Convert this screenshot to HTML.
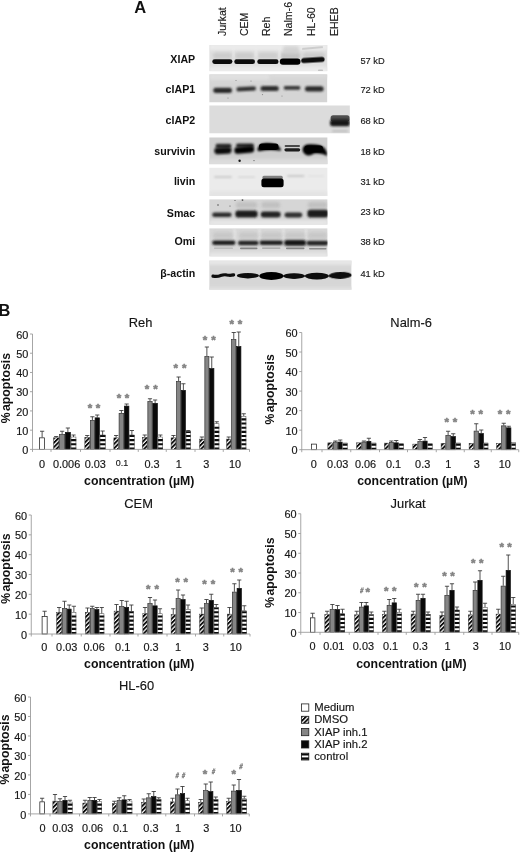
<!DOCTYPE html>
<html lang="en"><head><meta charset="utf-8"><title>Figure</title>
<style>html,body{margin:0;padding:0;background:#fff}svg{display:block}text{font-family:'Liberation Sans', sans-serif}</style>
</head><body>
<svg width="520" height="852" viewBox="0 0 520 852">
<defs>
<pattern id="hat" width="3.1" height="3.1" patternUnits="userSpaceOnUse" patternTransform="rotate(-45)"><rect width="3.1" height="3.1" fill="#fff"/><rect width="3.1" height="1.85" fill="#0a0a0a"/></pattern>
<pattern id="str" width="4" height="4.15" patternUnits="userSpaceOnUse"><rect width="4" height="4.15" fill="#fff"/><rect width="4" height="2.1" fill="#0a0a0a"/></pattern>
<filter id="b1" x="-20%" y="-80%" width="140%" height="260%"><feGaussianBlur stdDeviation="0.9"/></filter>
<filter id="b2" x="-20%" y="-80%" width="140%" height="260%"><feGaussianBlur stdDeviation="1.5"/></filter>
<filter id="b3" x="-30%" y="-100%" width="160%" height="300%"><feGaussianBlur stdDeviation="2.5"/></filter>
<filter id="b05" x="-20%" y="-80%" width="140%" height="260%"><feGaussianBlur stdDeviation="0.6"/></filter>
</defs>
<rect width="520" height="852" fill="#fff"/>
<g id="panelA">
<text x="225.7" y="36.1" font-size="10.6" fill="#1a1a1a" stroke="#1a1a1a" stroke-width="0.15" transform="rotate(-90 225.7 36.1)">Jurkat</text>
<text x="248.2" y="36.1" font-size="10.6" fill="#1a1a1a" stroke="#1a1a1a" stroke-width="0.15" transform="rotate(-90 248.2 36.1)">CEM</text>
<text x="270.5" y="36.1" font-size="10.6" fill="#1a1a1a" stroke="#1a1a1a" stroke-width="0.15" transform="rotate(-90 270.5 36.1)">Reh</text>
<text x="292.5" y="36.1" font-size="10.6" fill="#1a1a1a" stroke="#1a1a1a" stroke-width="0.15" transform="rotate(-90 292.5 36.1)">Nalm-6</text>
<text x="315" y="36.1" font-size="10.6" fill="#1a1a1a" stroke="#1a1a1a" stroke-width="0.15" transform="rotate(-90 315 36.1)">HL-60</text>
<text x="338.3" y="36.1" font-size="10.6" fill="#1a1a1a" stroke="#1a1a1a" stroke-width="0.15" transform="rotate(-90 338.3 36.1)">EHEB</text>
<text transform="translate(195.2 63.4) scale(1.065 1)" font-size="10" font-weight="bold" text-anchor="end" fill="#111">XIAP</text>
<text transform="translate(195.2 92.9) scale(1.065 1)" font-size="10" font-weight="bold" text-anchor="end" fill="#111">cIAP1</text>
<text transform="translate(195.2 124.2) scale(1.065 1)" font-size="10" font-weight="bold" text-anchor="end" fill="#111">cIAP2</text>
<text transform="translate(195.2 155.4) scale(1.065 1)" font-size="10" font-weight="bold" text-anchor="end" fill="#111">survivin</text>
<text transform="translate(195.2 184.9) scale(1.065 1)" font-size="10" font-weight="bold" text-anchor="end" fill="#111">livin</text>
<text transform="translate(195.2 216.6) scale(1.065 1)" font-size="10" font-weight="bold" text-anchor="end" fill="#111">Smac</text>
<text transform="translate(195.2 245.4) scale(1.065 1)" font-size="10" font-weight="bold" text-anchor="end" fill="#111">Omi</text>
<text transform="translate(195.2 277.4) scale(1.065 1)" font-size="10" font-weight="bold" text-anchor="end" fill="#111">β-actin</text>
<text x="360.4" y="63.6" font-size="9.3" fill="#1a1a1a" stroke="#1a1a1a" stroke-width="0.15">57 kD</text>
<text x="360.4" y="92.6" font-size="9.3" fill="#1a1a1a" stroke="#1a1a1a" stroke-width="0.15">72 kD</text>
<text x="360.4" y="123.8" font-size="9.3" fill="#1a1a1a" stroke="#1a1a1a" stroke-width="0.15">68 kD</text>
<text x="360.4" y="155" font-size="9.3" fill="#1a1a1a" stroke="#1a1a1a" stroke-width="0.15">18 kD</text>
<text x="360.4" y="184.6" font-size="9.3" fill="#1a1a1a" stroke="#1a1a1a" stroke-width="0.15">31 kD</text>
<text x="360.4" y="215.2" font-size="9.3" fill="#1a1a1a" stroke="#1a1a1a" stroke-width="0.15">23 kD</text>
<text x="360.4" y="245" font-size="9.3" fill="#1a1a1a" stroke="#1a1a1a" stroke-width="0.15">38 kD</text>
<text x="360.4" y="277" font-size="9.3" fill="#1a1a1a" stroke="#1a1a1a" stroke-width="0.15">41 kD</text>
<clipPath id="cb1"><rect x="209.2" y="45" width="118.3" height="26.3"/></clipPath>
<g clip-path="url(#cb1)">
<rect x="209.2" y="45" width="118.3" height="26.3" fill="#e0e0e0"/>
<rect x="209" y="44" width="119" height="6" rx="2.5" fill="#ececec" filter="url(#b2)"/>
<rect x="213" y="52.5" width="19" height="6.5" rx="2.5" fill="#c8c8c8" filter="url(#b2)" opacity="0.85"/>
<rect x="235" y="52.5" width="19" height="6.5" rx="2.5" fill="#c8c8c8" filter="url(#b2)" opacity="0.85"/>
<rect x="258" y="52.5" width="20" height="6.5" rx="2.5" fill="#cacaca" filter="url(#b2)" opacity="0.85"/>
<rect x="281" y="52.5" width="19" height="6.5" rx="2.5" fill="#bcbcbc" filter="url(#b2)" opacity="0.85"/>
<rect x="303" y="52.5" width="22" height="6.5" rx="2.5" fill="#c8c8c8" filter="url(#b2)" opacity="0.85"/>
<rect x="283" y="46" width="16" height="8" rx="2.5" fill="#cfcfcf" filter="url(#b2)" opacity="0.8"/>
<rect x="232.5" y="47" width="2" height="11" rx="2.5" fill="#ececec" filter="url(#b1)" opacity="0.8"/>
<rect x="255" y="47" width="2" height="11" rx="2.5" fill="#ececec" filter="url(#b1)" opacity="0.8"/>
<rect x="278.5" y="47" width="2" height="11" rx="2.5" fill="#ececec" filter="url(#b1)" opacity="0.8"/>
<rect x="209" y="67" width="119" height="6" rx="2.5" fill="#ececec" filter="url(#b2)"/>
<rect x="212.3" y="59.3" width="20.1" height="4.6" rx="2.3" fill="#0c0c0c" filter="url(#b05)"/>
<rect x="234.3" y="59.3" width="20.7" height="4.7" rx="2.35" fill="#0a0a0a" filter="url(#b05)"/>
<rect x="257.3" y="59.3" width="21.2" height="4.7" rx="2.35" fill="#0a0a0a" filter="url(#b05)"/>
<rect x="279.8" y="58.6" width="20.7" height="6.2" rx="3" fill="#050505" filter="url(#b05)"/>
<rect x="301.2" y="57.6" width="23.4" height="5" rx="2.5" fill="#080808" filter="url(#b05)" transform="rotate(-3.5 312.9 60.1)"/>
<rect x="302" y="47.6" width="21" height="1" rx="0.5" fill="#b0b0b0" filter="url(#b05)" transform="rotate(-5 312.5 48.1)"/>
<rect x="318" y="69.8" width="5" height="0.8" rx="0.4" fill="#9a9a9a" filter="url(#b05)"/>
</g>
<clipPath id="cb2"><rect x="209.2" y="74.2" width="118.2" height="28.3"/></clipPath>
<g clip-path="url(#cb2)">
<rect x="209.2" y="74.2" width="118.2" height="28.3" fill="#d5d5d5"/>
<rect x="209" y="73" width="61" height="7" rx="2.5" fill="#e0e0e0" filter="url(#b2)"/>
<rect x="270" y="73" width="58" height="5" rx="2.5" fill="#dadada" filter="url(#b2)"/>
<rect x="213.3" y="87.8" width="18.7" height="5.2" rx="2.5" fill="#2c2c2c" filter="url(#b1)"/>
<rect x="236.3" y="86.8" width="19.7" height="4.2" rx="2.1" fill="#2e2e2e" filter="url(#b1)" transform="rotate(-3 246.15 88.9)"/>
<rect x="260.5" y="85.9" width="18.3" height="5.1" rx="2.5" fill="#2e2e2e" filter="url(#b1)"/>
<rect x="283.7" y="86.1" width="16.7" height="3.6" rx="1.8" fill="#343434" filter="url(#b1)"/>
<rect x="305" y="86.2" width="18.6" height="5.4" rx="2.5" fill="#2c2c2c" filter="url(#b1)"/>
<circle cx="236" cy="80.5" r="0.6" fill="#8a8a8a" filter="url(#b05)"/>
<circle cx="251" cy="81" r="0.6" fill="#8a8a8a" filter="url(#b05)"/>
<circle cx="262.5" cy="94.6" r="0.6" fill="#8a8a8a" filter="url(#b05)"/>
<circle cx="282" cy="96" r="0.6" fill="#8a8a8a" filter="url(#b05)"/>
<circle cx="228" cy="98" r="0.6" fill="#8a8a8a" filter="url(#b05)"/>
</g>
<clipPath id="cb3"><rect x="209.2" y="105.3" width="140.7" height="28.2"/></clipPath>
<g clip-path="url(#cb3)">
<rect x="209.2" y="105.3" width="140.7" height="28.2" fill="#dcdcdc"/>
<rect x="330.6" y="115.2" width="19" height="6.3" rx="2.5" fill="#505050" filter="url(#b05)"/>
<rect x="330" y="119.6" width="19.8" height="6.6" rx="2.5" fill="#141414" filter="url(#b1)"/>
<rect x="332" y="130" width="16" height="2" rx="1" fill="#bdbdbd" filter="url(#b1)"/>
</g>
<clipPath id="cb4"><rect x="209.2" y="137.3" width="118.4" height="26.9"/></clipPath>
<g clip-path="url(#cb4)">
<rect x="209.2" y="137.3" width="118.4" height="26.9" fill="#cfcfcf"/>
<rect x="205" y="159" width="125" height="9" rx="2.5" fill="#dcdcdc" filter="url(#b2)"/>
<rect x="215.5" y="143.8" width="16" height="4.2" rx="2.1" fill="#2c2c2c" filter="url(#b1)"/>
<rect x="214.3" y="147.2" width="17.3" height="6.8" rx="3.4" fill="#080808" filter="url(#b1)" transform="rotate(-3 222.95 150.6)"/>
<rect x="236" y="143.6" width="18" height="4" rx="2" fill="#262626" filter="url(#b1)"/>
<rect x="234.3" y="146.6" width="19.9" height="6.6" rx="3.3" fill="#060606" filter="url(#b1)" transform="rotate(-5 244.25 149.9)"/>
<path d="M257.4 149.6 Q258 143.6 266 143.0 Q275 142.8 279.6 147.2 Q281.6 149.8 280.6 150.8 Q270 148.8 259.4 151.2 Q257.2 151.4 257.4 149.6Z" fill="#060606" filter="url(#b1)"/>
<rect x="259" y="143.6" width="19.5" height="6.4" rx="3" fill="#060606" filter="url(#b05)"/>
<rect x="284.6" y="144.9" width="15.4" height="2.1" rx="1.05" fill="#484848" filter="url(#b05)"/>
<rect x="284.4" y="148.2" width="15.8" height="3.2" rx="1.6" fill="#1c1c1c" filter="url(#b05)"/>
<path d="M302.6 149 Q303 144.4 310 144.2 Q320 144.0 324 147.6 Q327.4 151.5 327 156 Q322 152.8 314 153.4 Q309 157 305.4 154.4 Q302.2 152.4 302.6 149Z" fill="#060606" filter="url(#b1)"/>
<rect x="304.6" y="145.4" width="18.4" height="7" rx="3" fill="#060606" filter="url(#b05)"/>
<circle cx="239.6" cy="160.7" r="1.2" fill="#161616" filter="url(#b05)"/>
<circle cx="254" cy="160.6" r="0.6" fill="#555" filter="url(#b05)"/>
</g>
<clipPath id="cb5"><rect x="209.2" y="167.6" width="118.4" height="28.4"/></clipPath>
<g clip-path="url(#cb5)">
<rect x="209.2" y="167.6" width="118.4" height="28.4" fill="#ebebeb"/>
<rect x="214" y="176.2" width="18" height="1.6" rx="0.8" fill="#c2c2c2" filter="url(#b1)"/>
<rect x="238" y="176.6" width="17" height="1.2" rx="0.6" fill="#d0d0d0" filter="url(#b1)"/>
<rect x="287" y="175.2" width="17.5" height="1.6" rx="0.8" fill="#c0c0c0" filter="url(#b1)"/>
<rect x="308" y="175.6" width="16" height="1.2" rx="0.6" fill="#dedede" filter="url(#b1)"/>
<rect x="262.4" y="175.8" width="20.4" height="3.8" rx="1.5" fill="#808080" filter="url(#b05)"/>
<rect x="261.4" y="178.4" width="22.2" height="8.9" rx="2.5" fill="#050505" filter="url(#b05)"/>
<rect x="209" y="191" width="119" height="7" rx="2.5" fill="#e4e4e4" filter="url(#b2)"/>
</g>
<clipPath id="cb6"><rect x="209.2" y="199.2" width="118.4" height="25.6"/></clipPath>
<g clip-path="url(#cb6)">
<rect x="209.2" y="199.2" width="118.4" height="25.6" fill="#d6d6d6"/>
<rect x="209" y="220" width="119" height="6" rx="2.5" fill="#e6e6e6" filter="url(#b2)"/>
<rect x="236" y="202" width="21" height="6" rx="2.5" fill="#bcbcbc" filter="url(#b2)" opacity="0.85"/>
<rect x="261.5" y="202" width="18.5" height="6" rx="2.5" fill="#bcbcbc" filter="url(#b2)" opacity="0.85"/>
<rect x="308" y="202" width="19" height="6" rx="2.5" fill="#bcbcbc" filter="url(#b2)" opacity="0.85"/>
<rect x="212.2" y="212.6" width="19.4" height="4.4" rx="2.2" fill="#2c2c2c" filter="url(#b1)"/>
<rect x="235.3" y="210.5" width="22.3" height="6.9" rx="3" fill="#1e1e1e" filter="url(#b1)"/>
<rect x="260.7" y="211.5" width="20" height="5.9" rx="3" fill="#242424" filter="url(#b1)"/>
<rect x="284.5" y="212.6" width="17.8" height="4.8" rx="2.4" fill="#2e2e2e" filter="url(#b1)"/>
<rect x="307.4" y="209.8" width="21.1" height="7.6" rx="3" fill="#1e1e1e" filter="url(#b1)"/>
<circle cx="218" cy="205" r="0.8" fill="#555" filter="url(#b05)"/>
<circle cx="242.5" cy="200" r="0.9" fill="#555" filter="url(#b05)"/>
<circle cx="235" cy="200.5" r="0.6" fill="#555" filter="url(#b05)"/>
<circle cx="230" cy="206" r="0.6" fill="#555" filter="url(#b05)"/>
</g>
<clipPath id="cb7"><rect x="209.2" y="228.2" width="118.4" height="28.4"/></clipPath>
<g clip-path="url(#cb7)">
<rect x="209.2" y="228.2" width="118.4" height="28.4" fill="#d8d8d8"/>
<rect x="209" y="252.5" width="119" height="6.5" rx="2.5" fill="#e6e6e6" filter="url(#b2)"/>
<rect x="233.3" y="228" width="2.4" height="12" rx="2.5" fill="#ececec" filter="url(#b1)" opacity="0.6"/>
<rect x="258.3" y="228" width="2.4" height="12" rx="2.5" fill="#ececec" filter="url(#b1)" opacity="0.6"/>
<rect x="282.3" y="228" width="2.4" height="12" rx="2.5" fill="#ececec" filter="url(#b1)" opacity="0.6"/>
<rect x="304.8" y="228" width="2.4" height="12" rx="2.5" fill="#ececec" filter="url(#b1)" opacity="0.6"/>
<rect x="213" y="232" width="20" height="7" rx="2.5" fill="#c4c4c4" filter="url(#b2)" opacity="0.8"/>
<rect x="239" y="232" width="19" height="7" rx="2.5" fill="#c4c4c4" filter="url(#b2)" opacity="0.8"/>
<rect x="261" y="232" width="21" height="7" rx="2.5" fill="#c4c4c4" filter="url(#b2)" opacity="0.8"/>
<rect x="285" y="232" width="20" height="7" rx="2.5" fill="#c4c4c4" filter="url(#b2)" opacity="0.8"/>
<rect x="308" y="232" width="19" height="7" rx="2.5" fill="#c4c4c4" filter="url(#b2)" opacity="0.8"/>
<rect x="212.2" y="240.6" width="23.2" height="4.4" rx="2.2" fill="#1e1e1e" filter="url(#b1)"/>
<rect x="238" y="240.8" width="20.5" height="4.4" rx="2.2" fill="#222" filter="url(#b1)"/>
<rect x="259.6" y="240.6" width="23.4" height="4.4" rx="2.2" fill="#1e1e1e" filter="url(#b1)"/>
<rect x="284.2" y="240" width="21.8" height="5.8" rx="2.5" fill="#181818" filter="url(#b1)"/>
<rect x="306.4" y="240.8" width="22.1" height="4.6" rx="2.3" fill="#222" filter="url(#b1)"/>
<rect x="214" y="247.6" width="19" height="1.2" rx="0.6" fill="#b4b4b4" filter="url(#b05)"/>
<rect x="240" y="247.6" width="17.5" height="1.6" rx="0.8" fill="#858585" filter="url(#b05)"/>
<rect x="262" y="247.5" width="18.5" height="1.2" rx="0.6" fill="#a0a0a0" filter="url(#b05)"/>
<rect x="286" y="247.6" width="18.5" height="1.6" rx="0.8" fill="#858585" filter="url(#b05)"/>
<rect x="309" y="248" width="17.5" height="1.6" rx="0.8" fill="#8c8c8c" filter="url(#b05)"/>
</g>
<clipPath id="cb8"><rect x="209.2" y="260.5" width="142.4" height="29.2"/></clipPath>
<g clip-path="url(#cb8)">
<rect x="209.2" y="260.5" width="142.4" height="29.2" fill="#d6d6d6"/>
<rect x="205" y="257" width="150" height="8" rx="2.5" fill="#e6e6e6" filter="url(#b2)"/>
<rect x="205" y="287" width="150" height="6" rx="2.5" fill="#e0e0e0" filter="url(#b2)"/>
<path d="M213 276.2 Q217.5 276.9 220.5 275.6 Q224 274.3 227 275.0 Q230.5 275.6 233.6 274.9" stroke="#0a0a0a" stroke-width="3.2" stroke-linecap="round" fill="none" filter="url(#b05)"/>
<ellipse cx="247.9" cy="275.7" rx="11.1" ry="2.7" fill="#080808" filter="url(#b05)"/>
<ellipse cx="271.4" cy="276.05" rx="12.2" ry="3.95" fill="#060606" filter="url(#b05)"/>
<ellipse cx="294.05" cy="276.1" rx="11.05" ry="2.8" fill="#080808" filter="url(#b05)"/>
<ellipse cx="316.9" cy="276.1" rx="12.1" ry="3.3" fill="#080808" filter="url(#b05)"/>
<ellipse cx="340.3" cy="275.4" rx="11.7" ry="3.5" fill="#080808" filter="url(#b05)" transform="rotate(-2 340.3 275.4)"/>
</g>
</g>
<text x="134.3" y="12.6" font-size="16.5" font-weight="bold" fill="#111" >A</text>
<text x="-1.4" y="315.8" font-size="16.4" font-weight="bold" fill="#111" >B</text>
<g id="charts">
<path d="M42.12 437.5V431.25M40.02 431.25H44.23" stroke="#333" stroke-width="0.85" fill="none"/>
<rect x="39.6" y="437.85" width="5.05" height="11.55" fill="#fff" stroke="#111" stroke-width="0.7"/>
<path d="M56.25 437.5V436.5M54.15 436.5H58.35" stroke="#333" stroke-width="0.85" fill="none"/>
<rect x="53.6" y="437.85" width="5.3" height="11.55" fill="url(#hat)" stroke="#222" stroke-width="0.45"/>
<path d="M62.12 434.25V431.25M60.02 431.25H64.22" stroke="#333" stroke-width="0.85" fill="none"/>
<rect x="59.6" y="434.6" width="5.05" height="14.8" fill="#858585" stroke="#333" stroke-width="0.7"/>
<path d="M67.88 432V428M65.78 428H69.97" stroke="#333" stroke-width="0.85" fill="none"/>
<rect x="65.35" y="432.35" width="5.05" height="17.05" fill="#0a0a0a" stroke="#111" stroke-width="0.7"/>
<path d="M73.5 437V435M71.4 435H75.6" stroke="#333" stroke-width="0.85" fill="none"/>
<rect x="70.75" y="437" width="5.5" height="12.4" fill="#fff"/>
<path d="M70.75 447.4h5.5v2.1h-5.5zM70.75 443.25h5.5v2.1h-5.5zM70.75 439.1h5.5v2.1h-5.5z" fill="#0a0a0a"/>
<rect x="71.05" y="437" width="4.9" height="12.4" fill="none" stroke="#444" stroke-width="0.5"/>
<path d="M87.25 437V435.5M85.15 435.5H89.35" stroke="#333" stroke-width="0.85" fill="none"/>
<rect x="84.85" y="437.35" width="4.8" height="12.05" fill="url(#hat)" stroke="#222" stroke-width="0.45"/>
<path d="M92.38 420V416.75M90.28 416.75H94.47" stroke="#333" stroke-width="0.85" fill="none"/>
<rect x="90.35" y="420.35" width="4.05" height="29.05" fill="#858585" stroke="#333" stroke-width="0.7"/>
<path d="M97.25 417.5V415M95.15 415H99.35" stroke="#333" stroke-width="0.85" fill="none"/>
<rect x="95.1" y="417.85" width="4.3" height="31.55" fill="#0a0a0a" stroke="#111" stroke-width="0.7"/>
<path d="M102.62 435V431M100.53 431H104.72" stroke="#333" stroke-width="0.85" fill="none"/>
<rect x="99.75" y="435" width="5.75" height="14.4" fill="#fff"/>
<path d="M99.75 447.4h5.75v2.1h-5.75zM99.75 443.25h5.75v2.1h-5.75zM99.75 439.1h5.75v2.1h-5.75zM99.75 435h5.75v2.05h-5.75z" fill="#0a0a0a"/>
<rect x="100.05" y="435" width="5.15" height="14.4" fill="none" stroke="#444" stroke-width="0.5"/>
<path d="M116.12 437.5V435.5M114.03 435.5H118.22" stroke="#333" stroke-width="0.85" fill="none"/>
<rect x="113.85" y="437.85" width="4.55" height="11.55" fill="url(#hat)" stroke="#222" stroke-width="0.45"/>
<path d="M121.38 413V410.5M119.28 410.5H123.47" stroke="#333" stroke-width="0.85" fill="none"/>
<rect x="119.1" y="413.35" width="4.55" height="36.05" fill="#858585" stroke="#333" stroke-width="0.7"/>
<path d="M126.62 405.75V404M124.53 404H128.72" stroke="#333" stroke-width="0.85" fill="none"/>
<rect x="124.35" y="406.1" width="4.55" height="43.3" fill="#0a0a0a" stroke="#111" stroke-width="0.7"/>
<path d="M131.88 435V430.5M129.78 430.5H133.97" stroke="#333" stroke-width="0.85" fill="none"/>
<rect x="129.25" y="435" width="5.25" height="14.4" fill="#fff"/>
<path d="M129.25 447.4h5.25v2.1h-5.25zM129.25 443.25h5.25v2.1h-5.25zM129.25 439.1h5.25v2.1h-5.25zM129.25 435h5.25v2.05h-5.25z" fill="#0a0a0a"/>
<rect x="129.55" y="435" width="4.65" height="14.4" fill="none" stroke="#444" stroke-width="0.5"/>
<path d="M144.75 437V435M142.65 435H146.85" stroke="#333" stroke-width="0.85" fill="none"/>
<rect x="142.35" y="437.35" width="4.8" height="12.05" fill="url(#hat)" stroke="#222" stroke-width="0.45"/>
<path d="M150 401.25V398.75M147.9 398.75H152.1" stroke="#333" stroke-width="0.85" fill="none"/>
<rect x="147.85" y="401.6" width="4.3" height="47.8" fill="#858585" stroke="#333" stroke-width="0.7"/>
<path d="M155.12 403V400M153.03 400H157.22" stroke="#333" stroke-width="0.85" fill="none"/>
<rect x="152.85" y="403.35" width="4.55" height="46.05" fill="#0a0a0a" stroke="#111" stroke-width="0.7"/>
<path d="M160.38 437V435M158.28 435H162.47" stroke="#333" stroke-width="0.85" fill="none"/>
<rect x="157.75" y="437" width="5.25" height="12.4" fill="#fff"/>
<path d="M157.75 447.4h5.25v2.1h-5.25zM157.75 443.25h5.25v2.1h-5.25zM157.75 439.1h5.25v2.1h-5.25z" fill="#0a0a0a"/>
<rect x="158.05" y="437" width="4.65" height="12.4" fill="none" stroke="#444" stroke-width="0.5"/>
<path d="M173.5 437.5V435.5M171.4 435.5H175.6" stroke="#333" stroke-width="0.85" fill="none"/>
<rect x="171.1" y="437.85" width="4.8" height="11.55" fill="url(#hat)" stroke="#222" stroke-width="0.45"/>
<path d="M178.62 381.25V377M176.53 377H180.72" stroke="#333" stroke-width="0.85" fill="none"/>
<rect x="176.6" y="381.6" width="4.05" height="67.8" fill="#858585" stroke="#333" stroke-width="0.7"/>
<path d="M183.38 390V383.75M181.28 383.75H185.47" stroke="#333" stroke-width="0.85" fill="none"/>
<rect x="181.35" y="390.35" width="4.05" height="59.05" fill="#0a0a0a" stroke="#111" stroke-width="0.7"/>
<path d="M188.25 431.25V430.5M186.15 430.5H190.35" stroke="#333" stroke-width="0.85" fill="none"/>
<rect x="185.75" y="431.25" width="5" height="18.15" fill="#fff"/>
<path d="M185.75 447.4h5v2.1h-5zM185.75 443.25h5v2.1h-5zM185.75 439.1h5v2.1h-5zM185.75 434.95h5v2.1h-5zM185.75 431.25h5v1.65h-5z" fill="#0a0a0a"/>
<rect x="186.05" y="431.25" width="4.4" height="18.15" fill="none" stroke="#444" stroke-width="0.5"/>
<path d="M201.88 438.75V437M199.78 437H203.97" stroke="#333" stroke-width="0.85" fill="none"/>
<rect x="199.6" y="439.1" width="4.55" height="10.3" fill="url(#hat)" stroke="#222" stroke-width="0.45"/>
<path d="M206.88 356.25V347M204.78 347H208.97" stroke="#333" stroke-width="0.85" fill="none"/>
<rect x="204.85" y="356.6" width="4.05" height="92.8" fill="#858585" stroke="#333" stroke-width="0.7"/>
<path d="M211.75 368.25V357M209.65 357H213.85" stroke="#333" stroke-width="0.85" fill="none"/>
<rect x="209.6" y="368.6" width="4.3" height="80.8" fill="#0a0a0a" stroke="#111" stroke-width="0.7"/>
<path d="M216.75 423.75V421.75M214.65 421.75H218.85" stroke="#333" stroke-width="0.85" fill="none"/>
<rect x="214.25" y="423.75" width="5" height="25.65" fill="#fff"/>
<path d="M214.25 447.4h5v2.1h-5zM214.25 443.25h5v2.1h-5zM214.25 439.1h5v2.1h-5zM214.25 434.95h5v2.1h-5zM214.25 430.8h5v2.1h-5zM214.25 426.65h5v2.1h-5z" fill="#0a0a0a"/>
<rect x="214.55" y="423.75" width="4.4" height="25.65" fill="none" stroke="#444" stroke-width="0.5"/>
<path d="M228.75 438.75V437M226.65 437H230.85" stroke="#333" stroke-width="0.85" fill="none"/>
<rect x="226.6" y="439.1" width="4.3" height="10.3" fill="url(#hat)" stroke="#222" stroke-width="0.45"/>
<path d="M233.75 339.25V332.5M231.65 332.5H235.85" stroke="#333" stroke-width="0.85" fill="none"/>
<rect x="231.6" y="339.6" width="4.3" height="109.8" fill="#858585" stroke="#333" stroke-width="0.7"/>
<path d="M238.75 346.25V332M236.65 332H240.85" stroke="#333" stroke-width="0.85" fill="none"/>
<rect x="236.6" y="346.6" width="4.3" height="102.8" fill="#0a0a0a" stroke="#111" stroke-width="0.7"/>
<path d="M243.75 416.25V413.75M241.65 413.75H245.85" stroke="#333" stroke-width="0.85" fill="none"/>
<rect x="241.25" y="416.25" width="5" height="33.15" fill="#fff"/>
<path d="M241.25 447.4h5v2.1h-5zM241.25 443.25h5v2.1h-5zM241.25 439.1h5v2.1h-5zM241.25 434.95h5v2.1h-5zM241.25 430.8h5v2.1h-5zM241.25 426.65h5v2.1h-5zM241.25 422.5h5v2.1h-5zM241.25 418.35h5v2.1h-5z" fill="#0a0a0a"/>
<rect x="241.55" y="416.25" width="4.4" height="33.15" fill="none" stroke="#444" stroke-width="0.5"/>
<path d="M32.5 334V451.9M30 449.4H249.5" stroke="#9c9c9c" stroke-width="0.9" fill="none"/>
<path d="M51 449.4v2.5M80.5 449.4v2.5M110 449.4v2.5M138.25 449.4v2.5M166.25 449.4v2.5M195 449.4v2.5M223.25 449.4v2.5M249.5 449.4v2.5M30 430.17h2.5M30 410.93h2.5M30 391.7h2.5M30 372.47h2.5M30 353.23h2.5M30 334h2.5" stroke="#9c9c9c" stroke-width="0.9" fill="none"/>
<text transform="translate(28.4 454) scale(1.05 1)" font-size="10.4" text-anchor="end" fill="#151515" stroke="#151515" stroke-width="0.15">0</text>
<text transform="translate(28.4 434.77) scale(1.05 1)" font-size="10.4" text-anchor="end" fill="#151515" stroke="#151515" stroke-width="0.15">10</text>
<text transform="translate(28.4 415.53) scale(1.05 1)" font-size="10.4" text-anchor="end" fill="#151515" stroke="#151515" stroke-width="0.15">20</text>
<text transform="translate(28.4 396.3) scale(1.05 1)" font-size="10.4" text-anchor="end" fill="#151515" stroke="#151515" stroke-width="0.15">30</text>
<text transform="translate(28.4 377.07) scale(1.05 1)" font-size="10.4" text-anchor="end" fill="#151515" stroke="#151515" stroke-width="0.15">40</text>
<text transform="translate(28.4 357.83) scale(1.05 1)" font-size="10.4" text-anchor="end" fill="#151515" stroke="#151515" stroke-width="0.15">50</text>
<text transform="translate(28.4 338.6) scale(1.05 1)" font-size="10.4" text-anchor="end" fill="#151515" stroke="#151515" stroke-width="0.15">60</text>
<text transform="translate(42 467.5) scale(1.05 1)" font-size="10.4" text-anchor="middle" fill="#151515" stroke="#151515" stroke-width="0.15">0</text>
<text transform="translate(66.6 467.5) scale(1.05 1)" font-size="10.4" text-anchor="middle" fill="#151515" stroke="#151515" stroke-width="0.15">0.006</text>
<text transform="translate(95.3 467.5) scale(1.05 1)" font-size="10.4" text-anchor="middle" fill="#151515" stroke="#151515" stroke-width="0.15">0.03</text>
<text transform="translate(121.9 466.3) scale(1.05 1)" font-size="8.5" text-anchor="middle" fill="#151515" stroke="#151515" stroke-width="0.15">0.1</text>
<text transform="translate(152 467.5) scale(1.05 1)" font-size="10.4" text-anchor="middle" fill="#151515" stroke="#151515" stroke-width="0.15">0.3</text>
<text transform="translate(178.75 467.5) scale(1.05 1)" font-size="10.4" text-anchor="middle" fill="#151515" stroke="#151515" stroke-width="0.15">1</text>
<text transform="translate(206.25 467.5) scale(1.05 1)" font-size="10.4" text-anchor="middle" fill="#151515" stroke="#151515" stroke-width="0.15">3</text>
<text transform="translate(235 467.5) scale(1.05 1)" font-size="10.4" text-anchor="middle" fill="#151515" stroke="#151515" stroke-width="0.15">10</text>
<text x="90" y="412.35" font-size="11.5" text-anchor="middle" font-weight="bold" fill="#838383" stroke="#838383" stroke-width="0.55" stroke-linejoin="round">*</text>
<text x="98" y="412.35" font-size="11.5" text-anchor="middle" font-weight="bold" fill="#838383" stroke="#838383" stroke-width="0.55" stroke-linejoin="round">*</text>
<text x="119" y="402.35" font-size="11.5" text-anchor="middle" font-weight="bold" fill="#838383" stroke="#838383" stroke-width="0.55" stroke-linejoin="round">*</text>
<text x="127" y="402.35" font-size="11.5" text-anchor="middle" font-weight="bold" fill="#838383" stroke="#838383" stroke-width="0.55" stroke-linejoin="round">*</text>
<text x="147" y="393.1" font-size="11.5" text-anchor="middle" font-weight="bold" fill="#838383" stroke="#838383" stroke-width="0.55" stroke-linejoin="round">*</text>
<text x="155.5" y="393.1" font-size="11.5" text-anchor="middle" font-weight="bold" fill="#838383" stroke="#838383" stroke-width="0.55" stroke-linejoin="round">*</text>
<text x="175.75" y="371.85" font-size="11.5" text-anchor="middle" font-weight="bold" fill="#838383" stroke="#838383" stroke-width="0.55" stroke-linejoin="round">*</text>
<text x="184.25" y="371.85" font-size="11.5" text-anchor="middle" font-weight="bold" fill="#838383" stroke="#838383" stroke-width="0.55" stroke-linejoin="round">*</text>
<text x="205" y="343.85" font-size="11.5" text-anchor="middle" font-weight="bold" fill="#838383" stroke="#838383" stroke-width="0.55" stroke-linejoin="round">*</text>
<text x="213.5" y="343.85" font-size="11.5" text-anchor="middle" font-weight="bold" fill="#838383" stroke="#838383" stroke-width="0.55" stroke-linejoin="round">*</text>
<text x="231.75" y="328.1" font-size="11.5" text-anchor="middle" font-weight="bold" fill="#838383" stroke="#838383" stroke-width="0.55" stroke-linejoin="round">*</text>
<text x="240" y="328.1" font-size="11.5" text-anchor="middle" font-weight="bold" fill="#838383" stroke="#838383" stroke-width="0.55" stroke-linejoin="round">*</text>
<text transform="translate(140.6 327.2) scale(1.04 1)" font-size="12.4" text-anchor="middle" fill="#151515" stroke="#151515" stroke-width="0.15">Reh</text>
<text x="139.2" y="484.5" font-size="12.3" text-anchor="middle" font-weight="bold" fill="#111" >concentration (µM)</text>
<text x="9.9" y="423.2" font-size="12.3" font-weight="bold" fill="#111" transform="rotate(-90 9.9 423.2)">%<tspan dx="1.2">apoptosis</tspan></text>
<rect x="311.6" y="444.1" width="4.8" height="5.6" fill="#fff" stroke="#111" stroke-width="0.7"/>
<rect x="327.85" y="442.85" width="4.8" height="6.85" fill="url(#hat)" stroke="#222" stroke-width="0.45"/>
<path d="M335.5 441.75V441M333.4 441H337.6" stroke="#333" stroke-width="0.85" fill="none"/>
<rect x="333.35" y="442.1" width="4.3" height="7.6" fill="#858585" stroke="#333" stroke-width="0.7"/>
<path d="M340.25 441.75V440M338.15 440H342.35" stroke="#333" stroke-width="0.85" fill="none"/>
<rect x="338.35" y="442.1" width="3.8" height="7.6" fill="#0a0a0a" stroke="#111" stroke-width="0.7"/>
<rect x="342.5" y="443" width="5" height="6.7" fill="#fff"/>
<path d="M342.5 447.7h5v2.1h-5zM342.5 443.55h5v2.1h-5z" fill="#0a0a0a"/>
<rect x="342.8" y="443" width="4.4" height="6.7" fill="none" stroke="#444" stroke-width="0.5"/>
<rect x="356.6" y="442.85" width="4.55" height="6.85" fill="url(#hat)" stroke="#222" stroke-width="0.45"/>
<path d="M364 441.75V441M361.9 441H366.1" stroke="#333" stroke-width="0.85" fill="none"/>
<rect x="361.85" y="442.1" width="4.3" height="7.6" fill="#858585" stroke="#333" stroke-width="0.7"/>
<path d="M368.88 441V438.25M366.77 438.25H370.98" stroke="#333" stroke-width="0.85" fill="none"/>
<rect x="366.85" y="441.35" width="4.05" height="8.35" fill="#0a0a0a" stroke="#111" stroke-width="0.7"/>
<rect x="371.25" y="443" width="5" height="6.7" fill="#fff"/>
<path d="M371.25 447.7h5v2.1h-5zM371.25 443.55h5v2.1h-5z" fill="#0a0a0a"/>
<rect x="371.55" y="443" width="4.4" height="6.7" fill="none" stroke="#444" stroke-width="0.5"/>
<rect x="384.35" y="443.1" width="4.3" height="6.6" fill="url(#hat)" stroke="#222" stroke-width="0.45"/>
<path d="M391.38 442V441M389.27 441H393.48" stroke="#333" stroke-width="0.85" fill="none"/>
<rect x="389.35" y="442.35" width="4.05" height="7.35" fill="#858585" stroke="#333" stroke-width="0.7"/>
<path d="M396.25 442.5V440.5M394.15 440.5H398.35" stroke="#333" stroke-width="0.85" fill="none"/>
<rect x="394.1" y="442.85" width="4.3" height="6.85" fill="#0a0a0a" stroke="#111" stroke-width="0.7"/>
<rect x="398.75" y="443.75" width="5" height="5.95" fill="#fff"/>
<path d="M398.75 447.7h5v2.1h-5zM398.75 443.75h5v1.9h-5z" fill="#0a0a0a"/>
<rect x="399.05" y="443.75" width="4.4" height="5.95" fill="none" stroke="#444" stroke-width="0.5"/>
<rect x="412.85" y="444.1" width="4.3" height="5.6" fill="url(#hat)" stroke="#222" stroke-width="0.45"/>
<path d="M420 441.25V439.5M417.9 439.5H422.1" stroke="#333" stroke-width="0.85" fill="none"/>
<rect x="417.85" y="441.6" width="4.3" height="8.1" fill="#858585" stroke="#333" stroke-width="0.7"/>
<path d="M425 440.75V437.5M422.9 437.5H427.1" stroke="#333" stroke-width="0.85" fill="none"/>
<rect x="422.85" y="441.1" width="4.3" height="8.6" fill="#0a0a0a" stroke="#111" stroke-width="0.7"/>
<rect x="427.5" y="443.75" width="5" height="5.95" fill="#fff"/>
<path d="M427.5 447.7h5v2.1h-5zM427.5 443.75h5v1.9h-5z" fill="#0a0a0a"/>
<rect x="427.8" y="443.75" width="4.4" height="5.95" fill="none" stroke="#444" stroke-width="0.5"/>
<rect x="441.1" y="443.35" width="4.05" height="6.35" fill="url(#hat)" stroke="#222" stroke-width="0.45"/>
<path d="M448.12 435V431.25M446.02 431.25H450.23" stroke="#333" stroke-width="0.85" fill="none"/>
<rect x="445.85" y="435.35" width="4.55" height="14.35" fill="#858585" stroke="#333" stroke-width="0.7"/>
<path d="M453.25 436.25V433.75M451.15 433.75H455.35" stroke="#333" stroke-width="0.85" fill="none"/>
<rect x="451.1" y="436.6" width="4.3" height="13.1" fill="#0a0a0a" stroke="#111" stroke-width="0.7"/>
<rect x="455.75" y="443" width="5" height="6.7" fill="#fff"/>
<path d="M455.75 447.7h5v2.1h-5zM455.75 443.55h5v2.1h-5z" fill="#0a0a0a"/>
<rect x="456.05" y="443" width="4.4" height="6.7" fill="none" stroke="#444" stroke-width="0.5"/>
<rect x="469.1" y="443.35" width="4.3" height="6.35" fill="url(#hat)" stroke="#222" stroke-width="0.45"/>
<path d="M476.25 430.75V423.75M474.15 423.75H478.35" stroke="#333" stroke-width="0.85" fill="none"/>
<rect x="474.1" y="431.1" width="4.3" height="18.6" fill="#858585" stroke="#333" stroke-width="0.7"/>
<path d="M481.25 433.25V430M479.15 430H483.35" stroke="#333" stroke-width="0.85" fill="none"/>
<rect x="479.1" y="433.6" width="4.3" height="16.1" fill="#0a0a0a" stroke="#111" stroke-width="0.7"/>
<rect x="483.75" y="443" width="4.5" height="6.7" fill="#fff"/>
<path d="M483.75 447.7h4.5v2.1h-4.5zM483.75 443.55h4.5v2.1h-4.5z" fill="#0a0a0a"/>
<rect x="484.05" y="443" width="3.9" height="6.7" fill="none" stroke="#444" stroke-width="0.5"/>
<rect x="496.6" y="443.35" width="4.3" height="6.35" fill="url(#hat)" stroke="#222" stroke-width="0.45"/>
<path d="M503.75 425.5V423.25M501.65 423.25H505.85" stroke="#333" stroke-width="0.85" fill="none"/>
<rect x="501.6" y="425.85" width="4.3" height="23.85" fill="#858585" stroke="#333" stroke-width="0.7"/>
<path d="M508.75 427.5V426.25M506.65 426.25H510.85" stroke="#333" stroke-width="0.85" fill="none"/>
<rect x="506.6" y="427.85" width="4.3" height="21.85" fill="#0a0a0a" stroke="#111" stroke-width="0.7"/>
<rect x="511.25" y="442.5" width="4.5" height="7.2" fill="#fff"/>
<path d="M511.25 447.7h4.5v2.1h-4.5zM511.25 443.55h4.5v2.1h-4.5z" fill="#0a0a0a"/>
<rect x="511.55" y="442.5" width="3.9" height="7.2" fill="none" stroke="#444" stroke-width="0.5"/>
<path d="M301.75 332.5V452.2M299.25 449.7H518.75" stroke="#9c9c9c" stroke-width="0.9" fill="none"/>
<path d="M322 449.7v2.5M350.75 449.7v2.5M379.5 449.7v2.5M407.5 449.7v2.5M436.25 449.7v2.5M464.25 449.7v2.5M491.25 449.7v2.5M518.75 449.7v2.5M299.25 430.17h2.5M299.25 410.63h2.5M299.25 391.1h2.5M299.25 371.57h2.5M299.25 352.03h2.5M299.25 332.5h2.5" stroke="#9c9c9c" stroke-width="0.9" fill="none"/>
<text transform="translate(297.65 454.3) scale(1.05 1)" font-size="10.4" text-anchor="end" fill="#151515" stroke="#151515" stroke-width="0.15">0</text>
<text transform="translate(297.65 434.77) scale(1.05 1)" font-size="10.4" text-anchor="end" fill="#151515" stroke="#151515" stroke-width="0.15">10</text>
<text transform="translate(297.65 415.23) scale(1.05 1)" font-size="10.4" text-anchor="end" fill="#151515" stroke="#151515" stroke-width="0.15">20</text>
<text transform="translate(297.65 395.7) scale(1.05 1)" font-size="10.4" text-anchor="end" fill="#151515" stroke="#151515" stroke-width="0.15">30</text>
<text transform="translate(297.65 376.17) scale(1.05 1)" font-size="10.4" text-anchor="end" fill="#151515" stroke="#151515" stroke-width="0.15">40</text>
<text transform="translate(297.65 356.63) scale(1.05 1)" font-size="10.4" text-anchor="end" fill="#151515" stroke="#151515" stroke-width="0.15">50</text>
<text transform="translate(297.65 337.1) scale(1.05 1)" font-size="10.4" text-anchor="end" fill="#151515" stroke="#151515" stroke-width="0.15">60</text>
<text transform="translate(313.9 467.5) scale(1.05 1)" font-size="10.4" text-anchor="middle" fill="#151515" stroke="#151515" stroke-width="0.15">0</text>
<text transform="translate(337.7 467.5) scale(1.05 1)" font-size="10.4" text-anchor="middle" fill="#151515" stroke="#151515" stroke-width="0.15">0.03</text>
<text transform="translate(365.5 467.5) scale(1.05 1)" font-size="10.4" text-anchor="middle" fill="#151515" stroke="#151515" stroke-width="0.15">0.06</text>
<text transform="translate(393.6 467.5) scale(1.05 1)" font-size="10.4" text-anchor="middle" fill="#151515" stroke="#151515" stroke-width="0.15">0.1</text>
<text transform="translate(422.7 467.5) scale(1.05 1)" font-size="10.4" text-anchor="middle" fill="#151515" stroke="#151515" stroke-width="0.15">0.3</text>
<text transform="translate(448.4 467.5) scale(1.05 1)" font-size="10.4" text-anchor="middle" fill="#151515" stroke="#151515" stroke-width="0.15">1</text>
<text transform="translate(476.7 467.5) scale(1.05 1)" font-size="10.4" text-anchor="middle" fill="#151515" stroke="#151515" stroke-width="0.15">3</text>
<text transform="translate(504.7 467.5) scale(1.05 1)" font-size="10.4" text-anchor="middle" fill="#151515" stroke="#151515" stroke-width="0.15">10</text>
<text x="446.75" y="425.6" font-size="11.5" text-anchor="middle" font-weight="bold" fill="#838383" stroke="#838383" stroke-width="0.55" stroke-linejoin="round">*</text>
<text x="455" y="425.6" font-size="11.5" text-anchor="middle" font-weight="bold" fill="#838383" stroke="#838383" stroke-width="0.55" stroke-linejoin="round">*</text>
<text x="472.5" y="417.6" font-size="11.5" text-anchor="middle" font-weight="bold" fill="#838383" stroke="#838383" stroke-width="0.55" stroke-linejoin="round">*</text>
<text x="480.75" y="417.6" font-size="11.5" text-anchor="middle" font-weight="bold" fill="#838383" stroke="#838383" stroke-width="0.55" stroke-linejoin="round">*</text>
<text x="500" y="417.6" font-size="11.5" text-anchor="middle" font-weight="bold" fill="#838383" stroke="#838383" stroke-width="0.55" stroke-linejoin="round">*</text>
<text x="508.25" y="417.6" font-size="11.5" text-anchor="middle" font-weight="bold" fill="#838383" stroke="#838383" stroke-width="0.55" stroke-linejoin="round">*</text>
<text transform="translate(411.1 327) scale(1.04 1)" font-size="12.4" text-anchor="middle" fill="#151515" stroke="#151515" stroke-width="0.15">Nalm-6</text>
<text x="412.4" y="484.5" font-size="12.3" text-anchor="middle" font-weight="bold" fill="#111" >concentration (µM)</text>
<text x="274.5" y="424.4" font-size="12.3" font-weight="bold" fill="#111" transform="rotate(-90 274.5 424.4)">%<tspan dx="1.2">apoptosis</tspan></text>
<path d="M44.62 616.25V611.25M42.52 611.25H46.73" stroke="#333" stroke-width="0.85" fill="none"/>
<rect x="42.1" y="616.6" width="5.05" height="17.4" fill="#fff" stroke="#111" stroke-width="0.7"/>
<path d="M59.12 612V607.5M57.02 607.5H61.23" stroke="#333" stroke-width="0.85" fill="none"/>
<rect x="56.6" y="612.35" width="5.05" height="21.65" fill="url(#hat)" stroke="#222" stroke-width="0.45"/>
<path d="M64.5 608V601.25M62.4 601.25H66.6" stroke="#333" stroke-width="0.85" fill="none"/>
<rect x="62.35" y="608.35" width="4.3" height="25.65" fill="#858585" stroke="#333" stroke-width="0.7"/>
<path d="M69.25 608.75V605M67.15 605H71.35" stroke="#333" stroke-width="0.85" fill="none"/>
<rect x="67.35" y="609.1" width="3.8" height="24.9" fill="#0a0a0a" stroke="#111" stroke-width="0.7"/>
<path d="M73.88 612.5V606.25M71.78 606.25H75.97" stroke="#333" stroke-width="0.85" fill="none"/>
<rect x="71.5" y="612.5" width="4.75" height="21.5" fill="#fff"/>
<path d="M71.5 632h4.75v2.1h-4.75zM71.5 627.85h4.75v2.1h-4.75zM71.5 623.7h4.75v2.1h-4.75zM71.5 619.55h4.75v2.1h-4.75zM71.5 615.4h4.75v2.1h-4.75z" fill="#0a0a0a"/>
<rect x="71.8" y="612.5" width="4.15" height="21.5" fill="none" stroke="#444" stroke-width="0.5"/>
<path d="M87.5 612V608M85.4 608H89.6" stroke="#333" stroke-width="0.85" fill="none"/>
<rect x="85.35" y="612.35" width="4.3" height="21.65" fill="url(#hat)" stroke="#222" stroke-width="0.45"/>
<path d="M92.25 608.25V606.25M90.15 606.25H94.35" stroke="#333" stroke-width="0.85" fill="none"/>
<rect x="90.35" y="608.6" width="3.8" height="25.4" fill="#858585" stroke="#333" stroke-width="0.7"/>
<path d="M96.88 609.25V607.5M94.78 607.5H98.97" stroke="#333" stroke-width="0.85" fill="none"/>
<rect x="94.85" y="609.6" width="4.05" height="24.4" fill="#0a0a0a" stroke="#111" stroke-width="0.7"/>
<path d="M101.75 613.75V607.5M99.65 607.5H103.85" stroke="#333" stroke-width="0.85" fill="none"/>
<rect x="99.25" y="613.75" width="5" height="20.25" fill="#fff"/>
<path d="M99.25 632h5v2.1h-5zM99.25 627.85h5v2.1h-5zM99.25 623.7h5v2.1h-5zM99.25 619.55h5v2.1h-5zM99.25 615.4h5v2.1h-5z" fill="#0a0a0a"/>
<rect x="99.55" y="613.75" width="4.4" height="20.25" fill="none" stroke="#444" stroke-width="0.5"/>
<path d="M116.5 610.75V604.5M114.4 604.5H118.6" stroke="#333" stroke-width="0.85" fill="none"/>
<rect x="114.1" y="611.1" width="4.8" height="22.9" fill="url(#hat)" stroke="#222" stroke-width="0.45"/>
<path d="M121.75 606.25V600.5M119.65 600.5H123.85" stroke="#333" stroke-width="0.85" fill="none"/>
<rect x="119.6" y="606.6" width="4.3" height="27.4" fill="#858585" stroke="#333" stroke-width="0.7"/>
<path d="M126.62 607V601.25M124.53 601.25H128.72" stroke="#333" stroke-width="0.85" fill="none"/>
<rect x="124.6" y="607.35" width="4.05" height="26.65" fill="#0a0a0a" stroke="#111" stroke-width="0.7"/>
<path d="M131.38 611.25V605M129.28 605H133.47" stroke="#333" stroke-width="0.85" fill="none"/>
<rect x="129" y="611.25" width="4.75" height="22.75" fill="#fff"/>
<path d="M129 632h4.75v2.1h-4.75zM129 627.85h4.75v2.1h-4.75zM129 623.7h4.75v2.1h-4.75zM129 619.55h4.75v2.1h-4.75zM129 615.4h4.75v2.1h-4.75zM129 611.25h4.75v2.1h-4.75z" fill="#0a0a0a"/>
<rect x="129.3" y="611.25" width="4.15" height="22.75" fill="none" stroke="#444" stroke-width="0.5"/>
<path d="M145 613.25V607.5M142.9 607.5H147.1" stroke="#333" stroke-width="0.85" fill="none"/>
<rect x="142.85" y="613.6" width="4.3" height="20.4" fill="url(#hat)" stroke="#222" stroke-width="0.45"/>
<path d="M150 603.25V597.5M147.9 597.5H152.1" stroke="#333" stroke-width="0.85" fill="none"/>
<rect x="147.85" y="603.6" width="4.3" height="30.4" fill="#858585" stroke="#333" stroke-width="0.7"/>
<path d="M155 605.5V600M152.9 600H157.1" stroke="#333" stroke-width="0.85" fill="none"/>
<rect x="152.85" y="605.85" width="4.3" height="28.15" fill="#0a0a0a" stroke="#111" stroke-width="0.7"/>
<path d="M160 613.75V608.75M157.9 608.75H162.1" stroke="#333" stroke-width="0.85" fill="none"/>
<rect x="157.5" y="613.75" width="5" height="20.25" fill="#fff"/>
<path d="M157.5 632h5v2.1h-5zM157.5 627.85h5v2.1h-5zM157.5 623.7h5v2.1h-5zM157.5 619.55h5v2.1h-5zM157.5 615.4h5v2.1h-5z" fill="#0a0a0a"/>
<rect x="157.8" y="613.75" width="4.4" height="20.25" fill="none" stroke="#444" stroke-width="0.5"/>
<path d="M173.25 614.25V608.75M171.15 608.75H175.35" stroke="#333" stroke-width="0.85" fill="none"/>
<rect x="171.1" y="614.6" width="4.3" height="19.4" fill="url(#hat)" stroke="#222" stroke-width="0.45"/>
<path d="M178.12 598.25V590M176.03 590H180.22" stroke="#333" stroke-width="0.85" fill="none"/>
<rect x="176.1" y="598.6" width="4.05" height="35.4" fill="#858585" stroke="#333" stroke-width="0.7"/>
<path d="M183 599.25V595M180.9 595H185.1" stroke="#333" stroke-width="0.85" fill="none"/>
<rect x="180.85" y="599.6" width="4.3" height="34.4" fill="#0a0a0a" stroke="#111" stroke-width="0.7"/>
<path d="M188 609.25V605M185.9 605H190.1" stroke="#333" stroke-width="0.85" fill="none"/>
<rect x="185.5" y="609.25" width="5" height="24.75" fill="#fff"/>
<path d="M185.5 632h5v2.1h-5zM185.5 627.85h5v2.1h-5zM185.5 623.7h5v2.1h-5zM185.5 619.55h5v2.1h-5zM185.5 615.4h5v2.1h-5zM185.5 611.25h5v2.1h-5z" fill="#0a0a0a"/>
<rect x="185.8" y="609.25" width="4.4" height="24.75" fill="none" stroke="#444" stroke-width="0.5"/>
<path d="M201.75 613.75V608M199.65 608H203.85" stroke="#333" stroke-width="0.85" fill="none"/>
<rect x="199.6" y="614.1" width="4.3" height="19.9" fill="url(#hat)" stroke="#222" stroke-width="0.45"/>
<path d="M206.5 603.25V599.5M204.4 599.5H208.6" stroke="#333" stroke-width="0.85" fill="none"/>
<rect x="204.6" y="603.6" width="3.8" height="30.4" fill="#858585" stroke="#333" stroke-width="0.7"/>
<path d="M211.25 600V594.25M209.15 594.25H213.35" stroke="#333" stroke-width="0.85" fill="none"/>
<rect x="209.1" y="600.35" width="4.3" height="33.65" fill="#0a0a0a" stroke="#111" stroke-width="0.7"/>
<path d="M216.25 607.5V604.5M214.15 604.5H218.35" stroke="#333" stroke-width="0.85" fill="none"/>
<rect x="213.75" y="607.5" width="5" height="26.5" fill="#fff"/>
<path d="M213.75 632h5v2.1h-5zM213.75 627.85h5v2.1h-5zM213.75 623.7h5v2.1h-5zM213.75 619.55h5v2.1h-5zM213.75 615.4h5v2.1h-5zM213.75 611.25h5v2.1h-5zM213.75 607.5h5v1.7h-5z" fill="#0a0a0a"/>
<rect x="214.05" y="607.5" width="4.4" height="26.5" fill="none" stroke="#444" stroke-width="0.5"/>
<path d="M229.5 613.75V607.5M227.4 607.5H231.6" stroke="#333" stroke-width="0.85" fill="none"/>
<rect x="227.35" y="614.1" width="4.3" height="19.9" fill="url(#hat)" stroke="#222" stroke-width="0.45"/>
<path d="M234.38 591.75V583.75M232.28 583.75H236.47" stroke="#333" stroke-width="0.85" fill="none"/>
<rect x="232.35" y="592.1" width="4.05" height="41.9" fill="#858585" stroke="#333" stroke-width="0.7"/>
<path d="M239.25 588V580M237.15 580H241.35" stroke="#333" stroke-width="0.85" fill="none"/>
<rect x="237.1" y="588.35" width="4.3" height="45.65" fill="#0a0a0a" stroke="#111" stroke-width="0.7"/>
<path d="M244.25 610.75V605.75M242.15 605.75H246.35" stroke="#333" stroke-width="0.85" fill="none"/>
<rect x="241.75" y="610.75" width="5" height="23.25" fill="#fff"/>
<path d="M241.75 632h5v2.1h-5zM241.75 627.85h5v2.1h-5zM241.75 623.7h5v2.1h-5zM241.75 619.55h5v2.1h-5zM241.75 615.4h5v2.1h-5zM241.75 611.25h5v2.1h-5z" fill="#0a0a0a"/>
<rect x="242.05" y="610.75" width="4.4" height="23.25" fill="none" stroke="#444" stroke-width="0.5"/>
<path d="M31.25 515V636.5M28.75 634H250" stroke="#9c9c9c" stroke-width="0.9" fill="none"/>
<path d="M52 634v2.5M81.25 634v2.5M110 634v2.5M138 634v2.5M167 634v2.5M195.5 634v2.5M223.75 634v2.5M250 634v2.5M28.75 614.17h2.5M28.75 594.33h2.5M28.75 574.5h2.5M28.75 554.67h2.5M28.75 534.83h2.5M28.75 515h2.5" stroke="#9c9c9c" stroke-width="0.9" fill="none"/>
<text transform="translate(27.15 638.6) scale(1.05 1)" font-size="10.4" text-anchor="end" fill="#151515" stroke="#151515" stroke-width="0.15">0</text>
<text transform="translate(27.15 618.77) scale(1.05 1)" font-size="10.4" text-anchor="end" fill="#151515" stroke="#151515" stroke-width="0.15">10</text>
<text transform="translate(27.15 598.93) scale(1.05 1)" font-size="10.4" text-anchor="end" fill="#151515" stroke="#151515" stroke-width="0.15">20</text>
<text transform="translate(27.15 579.1) scale(1.05 1)" font-size="10.4" text-anchor="end" fill="#151515" stroke="#151515" stroke-width="0.15">30</text>
<text transform="translate(27.15 559.27) scale(1.05 1)" font-size="10.4" text-anchor="end" fill="#151515" stroke="#151515" stroke-width="0.15">40</text>
<text transform="translate(27.15 539.43) scale(1.05 1)" font-size="10.4" text-anchor="end" fill="#151515" stroke="#151515" stroke-width="0.15">50</text>
<text transform="translate(27.15 519.6) scale(1.05 1)" font-size="10.4" text-anchor="end" fill="#151515" stroke="#151515" stroke-width="0.15">60</text>
<text transform="translate(44.3 651.3) scale(1.05 1)" font-size="10.4" text-anchor="middle" fill="#151515" stroke="#151515" stroke-width="0.15">0</text>
<text transform="translate(66.7 651.3) scale(1.05 1)" font-size="10.4" text-anchor="middle" fill="#151515" stroke="#151515" stroke-width="0.15">0.03</text>
<text transform="translate(94.1 651.3) scale(1.05 1)" font-size="10.4" text-anchor="middle" fill="#151515" stroke="#151515" stroke-width="0.15">0.06</text>
<text transform="translate(122.7 651.3) scale(1.05 1)" font-size="10.4" text-anchor="middle" fill="#151515" stroke="#151515" stroke-width="0.15">0.1</text>
<text transform="translate(151 651.3) scale(1.05 1)" font-size="10.4" text-anchor="middle" fill="#151515" stroke="#151515" stroke-width="0.15">0.3</text>
<text transform="translate(178 651.3) scale(1.05 1)" font-size="10.4" text-anchor="middle" fill="#151515" stroke="#151515" stroke-width="0.15">1</text>
<text transform="translate(205.8 651.3) scale(1.05 1)" font-size="10.4" text-anchor="middle" fill="#151515" stroke="#151515" stroke-width="0.15">3</text>
<text transform="translate(235.7 651.3) scale(1.05 1)" font-size="10.4" text-anchor="middle" fill="#151515" stroke="#151515" stroke-width="0.15">10</text>
<text x="148.25" y="593.1" font-size="11.5" text-anchor="middle" font-weight="bold" fill="#838383" stroke="#838383" stroke-width="0.55" stroke-linejoin="round">*</text>
<text x="156.75" y="593.1" font-size="11.5" text-anchor="middle" font-weight="bold" fill="#838383" stroke="#838383" stroke-width="0.55" stroke-linejoin="round">*</text>
<text x="177.5" y="586.35" font-size="11.5" text-anchor="middle" font-weight="bold" fill="#838383" stroke="#838383" stroke-width="0.55" stroke-linejoin="round">*</text>
<text x="185.75" y="586.35" font-size="11.5" text-anchor="middle" font-weight="bold" fill="#838383" stroke="#838383" stroke-width="0.55" stroke-linejoin="round">*</text>
<text x="204.5" y="587.6" font-size="11.5" text-anchor="middle" font-weight="bold" fill="#838383" stroke="#838383" stroke-width="0.55" stroke-linejoin="round">*</text>
<text x="213" y="587.6" font-size="11.5" text-anchor="middle" font-weight="bold" fill="#838383" stroke="#838383" stroke-width="0.55" stroke-linejoin="round">*</text>
<text x="232.5" y="575.6" font-size="11.5" text-anchor="middle" font-weight="bold" fill="#838383" stroke="#838383" stroke-width="0.55" stroke-linejoin="round">*</text>
<text x="240.75" y="575.6" font-size="11.5" text-anchor="middle" font-weight="bold" fill="#838383" stroke="#838383" stroke-width="0.55" stroke-linejoin="round">*</text>
<text transform="translate(138.6 508) scale(1.04 1)" font-size="12.4" text-anchor="middle" fill="#151515" stroke="#151515" stroke-width="0.15">CEM</text>
<text x="139.2" y="667.7" font-size="12.3" text-anchor="middle" font-weight="bold" fill="#111" >concentration (µM)</text>
<text x="9.9" y="603.7" font-size="12.3" font-weight="bold" fill="#111" transform="rotate(-90 9.9 603.7)">%<tspan dx="1.2">apoptosis</tspan></text>
<path d="M312.62 617.5V613.25M310.52 613.25H314.73" stroke="#333" stroke-width="0.85" fill="none"/>
<rect x="310.35" y="617.85" width="4.55" height="14.45" fill="#fff" stroke="#111" stroke-width="0.7"/>
<path d="M327.12 614.25V611.25M325.02 611.25H329.23" stroke="#333" stroke-width="0.85" fill="none"/>
<rect x="324.85" y="614.6" width="4.55" height="17.7" fill="url(#hat)" stroke="#222" stroke-width="0.45"/>
<path d="M332.38 609.25V604.5M330.27 604.5H334.48" stroke="#333" stroke-width="0.85" fill="none"/>
<rect x="330.1" y="609.6" width="4.55" height="22.7" fill="#858585" stroke="#333" stroke-width="0.7"/>
<path d="M337.5 609.25V605.5M335.4 605.5H339.6" stroke="#333" stroke-width="0.85" fill="none"/>
<rect x="335.35" y="609.6" width="4.3" height="22.7" fill="#0a0a0a" stroke="#111" stroke-width="0.7"/>
<path d="M342.5 613.75V609.25M340.4 609.25H344.6" stroke="#333" stroke-width="0.85" fill="none"/>
<rect x="340" y="613.75" width="5" height="18.55" fill="#fff"/>
<path d="M340 630.3h5v2.1h-5zM340 626.15h5v2.1h-5zM340 622h5v2.1h-5zM340 617.85h5v2.1h-5zM340 613.75h5v2.05h-5z" fill="#0a0a0a"/>
<rect x="340.3" y="613.75" width="4.4" height="18.55" fill="none" stroke="#444" stroke-width="0.5"/>
<path d="M356.75 614.5V611.25M354.65 611.25H358.85" stroke="#333" stroke-width="0.85" fill="none"/>
<rect x="354.6" y="614.85" width="4.3" height="17.45" fill="url(#hat)" stroke="#222" stroke-width="0.45"/>
<path d="M361.5 606.75V602.5M359.4 602.5H363.6" stroke="#333" stroke-width="0.85" fill="none"/>
<rect x="359.6" y="607.1" width="3.8" height="25.2" fill="#858585" stroke="#333" stroke-width="0.7"/>
<path d="M366.25 605.5V602.5M364.15 602.5H368.35" stroke="#333" stroke-width="0.85" fill="none"/>
<rect x="364.1" y="605.85" width="4.3" height="26.45" fill="#0a0a0a" stroke="#111" stroke-width="0.7"/>
<path d="M371.25 614.5V612M369.15 612H373.35" stroke="#333" stroke-width="0.85" fill="none"/>
<rect x="368.75" y="614.5" width="5" height="17.8" fill="#fff"/>
<path d="M368.75 630.3h5v2.1h-5zM368.75 626.15h5v2.1h-5zM368.75 622h5v2.1h-5zM368.75 617.85h5v2.1h-5zM368.75 614.5h5v1.3h-5z" fill="#0a0a0a"/>
<rect x="369.05" y="614.5" width="4.4" height="17.8" fill="none" stroke="#444" stroke-width="0.5"/>
<path d="M384.38 614.25V611.25M382.27 611.25H386.48" stroke="#333" stroke-width="0.85" fill="none"/>
<rect x="382.35" y="614.6" width="4.05" height="17.7" fill="url(#hat)" stroke="#222" stroke-width="0.45"/>
<path d="M389.25 605V599.5M387.15 599.5H391.35" stroke="#333" stroke-width="0.85" fill="none"/>
<rect x="387.1" y="605.35" width="4.3" height="26.95" fill="#858585" stroke="#333" stroke-width="0.7"/>
<path d="M394.25 602.5V598.5M392.15 598.5H396.35" stroke="#333" stroke-width="0.85" fill="none"/>
<rect x="392.1" y="602.85" width="4.3" height="29.45" fill="#0a0a0a" stroke="#111" stroke-width="0.7"/>
<path d="M399.25 612.5V609.25M397.15 609.25H401.35" stroke="#333" stroke-width="0.85" fill="none"/>
<rect x="396.75" y="612.5" width="5" height="19.8" fill="#fff"/>
<path d="M396.75 630.3h5v2.1h-5zM396.75 626.15h5v2.1h-5zM396.75 622h5v2.1h-5zM396.75 617.85h5v2.1h-5zM396.75 613.7h5v2.1h-5z" fill="#0a0a0a"/>
<rect x="397.05" y="612.5" width="4.4" height="19.8" fill="none" stroke="#444" stroke-width="0.5"/>
<path d="M413.25 613.75V611.25M411.15 611.25H415.35" stroke="#333" stroke-width="0.85" fill="none"/>
<rect x="411.1" y="614.1" width="4.3" height="18.2" fill="url(#hat)" stroke="#222" stroke-width="0.45"/>
<path d="M418.12 600V594.25M416.02 594.25H420.23" stroke="#333" stroke-width="0.85" fill="none"/>
<rect x="416.1" y="600.35" width="4.05" height="31.95" fill="#858585" stroke="#333" stroke-width="0.7"/>
<path d="M423 598V594.25M420.9 594.25H425.1" stroke="#333" stroke-width="0.85" fill="none"/>
<rect x="420.85" y="598.35" width="4.3" height="33.95" fill="#0a0a0a" stroke="#111" stroke-width="0.7"/>
<path d="M428 614.25V612M425.9 612H430.1" stroke="#333" stroke-width="0.85" fill="none"/>
<rect x="425.5" y="614.25" width="5" height="18.05" fill="#fff"/>
<path d="M425.5 630.3h5v2.1h-5zM425.5 626.15h5v2.1h-5zM425.5 622h5v2.1h-5zM425.5 617.85h5v2.1h-5zM425.5 614.25h5v1.55h-5z" fill="#0a0a0a"/>
<rect x="425.8" y="614.25" width="4.4" height="18.05" fill="none" stroke="#444" stroke-width="0.5"/>
<path d="M442 615V612M439.9 612H444.1" stroke="#333" stroke-width="0.85" fill="none"/>
<rect x="439.85" y="615.35" width="4.3" height="16.95" fill="url(#hat)" stroke="#222" stroke-width="0.45"/>
<path d="M447 595V586.25M444.9 586.25H449.1" stroke="#333" stroke-width="0.85" fill="none"/>
<rect x="444.85" y="595.35" width="4.3" height="36.95" fill="#858585" stroke="#333" stroke-width="0.7"/>
<path d="M452 590V583.75M449.9 583.75H454.1" stroke="#333" stroke-width="0.85" fill="none"/>
<rect x="449.85" y="590.35" width="4.3" height="41.95" fill="#0a0a0a" stroke="#111" stroke-width="0.7"/>
<path d="M457 610V607M454.9 607H459.1" stroke="#333" stroke-width="0.85" fill="none"/>
<rect x="454.5" y="610" width="5" height="22.3" fill="#fff"/>
<path d="M454.5 630.3h5v2.1h-5zM454.5 626.15h5v2.1h-5zM454.5 622h5v2.1h-5zM454.5 617.85h5v2.1h-5zM454.5 613.7h5v2.1h-5zM454.5 610h5v1.65h-5z" fill="#0a0a0a"/>
<rect x="454.8" y="610" width="4.4" height="22.3" fill="none" stroke="#444" stroke-width="0.5"/>
<path d="M470.38 614.5V611.25M468.27 611.25H472.48" stroke="#333" stroke-width="0.85" fill="none"/>
<rect x="468.35" y="614.85" width="4.05" height="17.45" fill="url(#hat)" stroke="#222" stroke-width="0.45"/>
<path d="M475.12 590V582M473.02 582H477.23" stroke="#333" stroke-width="0.85" fill="none"/>
<rect x="473.1" y="590.35" width="4.05" height="41.95" fill="#858585" stroke="#333" stroke-width="0.7"/>
<path d="M480 580V570.75M477.9 570.75H482.1" stroke="#333" stroke-width="0.85" fill="none"/>
<rect x="477.85" y="580.35" width="4.3" height="51.95" fill="#0a0a0a" stroke="#111" stroke-width="0.7"/>
<path d="M485 607.5V603.25M482.9 603.25H487.1" stroke="#333" stroke-width="0.85" fill="none"/>
<rect x="482.5" y="607.5" width="5" height="24.8" fill="#fff"/>
<path d="M482.5 630.3h5v2.1h-5zM482.5 626.15h5v2.1h-5zM482.5 622h5v2.1h-5zM482.5 617.85h5v2.1h-5zM482.5 613.7h5v2.1h-5zM482.5 609.55h5v2.1h-5z" fill="#0a0a0a"/>
<rect x="482.8" y="607.5" width="4.4" height="24.8" fill="none" stroke="#444" stroke-width="0.5"/>
<path d="M498.25 613.75V609.25M496.15 609.25H500.35" stroke="#333" stroke-width="0.85" fill="none"/>
<rect x="496.1" y="614.1" width="4.3" height="18.2" fill="url(#hat)" stroke="#222" stroke-width="0.45"/>
<path d="M503.25 585.75V576.25M501.15 576.25H505.35" stroke="#333" stroke-width="0.85" fill="none"/>
<rect x="501.1" y="586.1" width="4.3" height="46.2" fill="#858585" stroke="#333" stroke-width="0.7"/>
<path d="M508.25 570V555M506.15 555H510.35" stroke="#333" stroke-width="0.85" fill="none"/>
<rect x="506.1" y="570.35" width="4.3" height="61.95" fill="#0a0a0a" stroke="#111" stroke-width="0.7"/>
<path d="M513.25 604.25V597.5M511.15 597.5H515.35" stroke="#333" stroke-width="0.85" fill="none"/>
<rect x="510.75" y="604.25" width="5" height="28.05" fill="#fff"/>
<path d="M510.75 630.3h5v2.1h-5zM510.75 626.15h5v2.1h-5zM510.75 622h5v2.1h-5zM510.75 617.85h5v2.1h-5zM510.75 613.7h5v2.1h-5zM510.75 609.55h5v2.1h-5zM510.75 605.4h5v2.1h-5z" fill="#0a0a0a"/>
<rect x="511.05" y="604.25" width="4.4" height="28.05" fill="none" stroke="#444" stroke-width="0.5"/>
<path d="M300.75 513.75V634.8M298.25 632.3H518.75" stroke="#9c9c9c" stroke-width="0.9" fill="none"/>
<path d="M320 632.3v2.5M349.25 632.3v2.5M378 632.3v2.5M406.25 632.3v2.5M435 632.3v2.5M463.75 632.3v2.5M492 632.3v2.5M518.75 632.3v2.5M298.25 612.54h2.5M298.25 592.78h2.5M298.25 573.02h2.5M298.25 553.27h2.5M298.25 533.51h2.5M298.25 513.75h2.5" stroke="#9c9c9c" stroke-width="0.9" fill="none"/>
<text transform="translate(296.65 636.9) scale(1.05 1)" font-size="10.4" text-anchor="end" fill="#151515" stroke="#151515" stroke-width="0.15">0</text>
<text transform="translate(296.65 617.14) scale(1.05 1)" font-size="10.4" text-anchor="end" fill="#151515" stroke="#151515" stroke-width="0.15">10</text>
<text transform="translate(296.65 597.38) scale(1.05 1)" font-size="10.4" text-anchor="end" fill="#151515" stroke="#151515" stroke-width="0.15">20</text>
<text transform="translate(296.65 577.62) scale(1.05 1)" font-size="10.4" text-anchor="end" fill="#151515" stroke="#151515" stroke-width="0.15">30</text>
<text transform="translate(296.65 557.87) scale(1.05 1)" font-size="10.4" text-anchor="end" fill="#151515" stroke="#151515" stroke-width="0.15">40</text>
<text transform="translate(296.65 538.11) scale(1.05 1)" font-size="10.4" text-anchor="end" fill="#151515" stroke="#151515" stroke-width="0.15">50</text>
<text transform="translate(296.65 518.35) scale(1.05 1)" font-size="10.4" text-anchor="end" fill="#151515" stroke="#151515" stroke-width="0.15">60</text>
<text transform="translate(312.5 650.2) scale(1.05 1)" font-size="10.4" text-anchor="middle" fill="#151515" stroke="#151515" stroke-width="0.15">0</text>
<text transform="translate(333.75 650.2) scale(1.05 1)" font-size="10.4" text-anchor="middle" fill="#151515" stroke="#151515" stroke-width="0.15">0.01</text>
<text transform="translate(363.4 650.2) scale(1.05 1)" font-size="10.4" text-anchor="middle" fill="#151515" stroke="#151515" stroke-width="0.15">0.03</text>
<text transform="translate(390.6 650.2) scale(1.05 1)" font-size="10.4" text-anchor="middle" fill="#151515" stroke="#151515" stroke-width="0.15">0.1</text>
<text transform="translate(420.25 650.2) scale(1.05 1)" font-size="10.4" text-anchor="middle" fill="#151515" stroke="#151515" stroke-width="0.15">0.3</text>
<text transform="translate(447.5 650.2) scale(1.05 1)" font-size="10.4" text-anchor="middle" fill="#151515" stroke="#151515" stroke-width="0.15">1</text>
<text transform="translate(475.75 650.2) scale(1.05 1)" font-size="10.4" text-anchor="middle" fill="#151515" stroke="#151515" stroke-width="0.15">3</text>
<text transform="translate(505 650.2) scale(1.05 1)" font-size="10.4" text-anchor="middle" fill="#151515" stroke="#151515" stroke-width="0.15">10</text>
<text transform="translate(361.25 593.3) skewX(-8) scale(0.74 1)" font-size="7.8" text-anchor="middle" font-style="italic" font-weight="bold" fill="#7c7c7c" stroke="#7c7c7c" stroke-width="0.4">#</text>
<text x="367.75" y="596.1" font-size="11.5" text-anchor="middle" font-weight="bold" fill="#838383" stroke="#838383" stroke-width="0.55" stroke-linejoin="round">*</text>
<text x="386.25" y="595.1" font-size="11.5" text-anchor="middle" font-weight="bold" fill="#838383" stroke="#838383" stroke-width="0.55" stroke-linejoin="round">*</text>
<text x="394.25" y="595.1" font-size="11.5" text-anchor="middle" font-weight="bold" fill="#838383" stroke="#838383" stroke-width="0.55" stroke-linejoin="round">*</text>
<text x="416.25" y="590.6" font-size="11.5" text-anchor="middle" font-weight="bold" fill="#838383" stroke="#838383" stroke-width="0.55" stroke-linejoin="round">*</text>
<text x="424.5" y="590.6" font-size="11.5" text-anchor="middle" font-weight="bold" fill="#838383" stroke="#838383" stroke-width="0.55" stroke-linejoin="round">*</text>
<text x="444.5" y="580.1" font-size="11.5" text-anchor="middle" font-weight="bold" fill="#838383" stroke="#838383" stroke-width="0.55" stroke-linejoin="round">*</text>
<text x="452.5" y="580.1" font-size="11.5" text-anchor="middle" font-weight="bold" fill="#838383" stroke="#838383" stroke-width="0.55" stroke-linejoin="round">*</text>
<text x="473.25" y="566.85" font-size="11.5" text-anchor="middle" font-weight="bold" fill="#838383" stroke="#838383" stroke-width="0.55" stroke-linejoin="round">*</text>
<text x="481.25" y="566.85" font-size="11.5" text-anchor="middle" font-weight="bold" fill="#838383" stroke="#838383" stroke-width="0.55" stroke-linejoin="round">*</text>
<text x="501.75" y="550.6" font-size="11.5" text-anchor="middle" font-weight="bold" fill="#838383" stroke="#838383" stroke-width="0.55" stroke-linejoin="round">*</text>
<text x="509.5" y="550.6" font-size="11.5" text-anchor="middle" font-weight="bold" fill="#838383" stroke="#838383" stroke-width="0.55" stroke-linejoin="round">*</text>
<text transform="translate(408.1 508) scale(1.04 1)" font-size="12.4" text-anchor="middle" fill="#151515" stroke="#151515" stroke-width="0.15">Jurkat</text>
<text x="411.4" y="667.6" font-size="12.3" text-anchor="middle" font-weight="bold" fill="#111" >concentration (µM)</text>
<text x="274.3" y="607.7" font-size="12.3" font-weight="bold" fill="#111" transform="rotate(-90 274.3 607.7)">%<tspan dx="1.2">apoptosis</tspan></text>
<path d="M42.12 801.5V798.25M40.02 798.25H44.23" stroke="#333" stroke-width="0.85" fill="none"/>
<rect x="39.85" y="801.85" width="4.55" height="12.05" fill="#fff" stroke="#111" stroke-width="0.7"/>
<path d="M55 800.75V794.5M52.9 794.5H57.1" stroke="#333" stroke-width="0.85" fill="none"/>
<rect x="52.85" y="801.1" width="4.3" height="12.8" fill="url(#hat)" stroke="#222" stroke-width="0.45"/>
<path d="M60 801.25V798.75M57.9 798.75H62.1" stroke="#333" stroke-width="0.85" fill="none"/>
<rect x="57.85" y="801.6" width="4.3" height="12.3" fill="#858585" stroke="#333" stroke-width="0.7"/>
<path d="M65 800V796.5M62.9 796.5H67.1" stroke="#333" stroke-width="0.85" fill="none"/>
<rect x="62.85" y="800.35" width="4.3" height="13.55" fill="#0a0a0a" stroke="#111" stroke-width="0.7"/>
<path d="M70 802V800.25M67.9 800.25H72.1" stroke="#333" stroke-width="0.85" fill="none"/>
<rect x="67.5" y="802" width="5" height="11.9" fill="#fff"/>
<path d="M67.5 811.9h5v2.1h-5zM67.5 807.75h5v2.1h-5zM67.5 803.6h5v2.1h-5z" fill="#0a0a0a"/>
<rect x="67.8" y="802" width="4.4" height="11.9" fill="none" stroke="#444" stroke-width="0.5"/>
<path d="M85 802.75V800.25M82.9 800.25H87.1" stroke="#333" stroke-width="0.85" fill="none"/>
<rect x="82.85" y="803.1" width="4.3" height="10.8" fill="url(#hat)" stroke="#222" stroke-width="0.45"/>
<path d="M89.75 800.25V797.5M87.65 797.5H91.85" stroke="#333" stroke-width="0.85" fill="none"/>
<rect x="87.85" y="800.6" width="3.8" height="13.3" fill="#858585" stroke="#333" stroke-width="0.7"/>
<path d="M94.5 800V797.5M92.4 797.5H96.6" stroke="#333" stroke-width="0.85" fill="none"/>
<rect x="92.35" y="800.35" width="4.3" height="13.55" fill="#0a0a0a" stroke="#111" stroke-width="0.7"/>
<path d="M99.5 801.5V799.5M97.4 799.5H101.6" stroke="#333" stroke-width="0.85" fill="none"/>
<rect x="97" y="801.5" width="5" height="12.4" fill="#fff"/>
<path d="M97 811.9h5v2.1h-5zM97 807.75h5v2.1h-5zM97 803.6h5v2.1h-5z" fill="#0a0a0a"/>
<rect x="97.3" y="801.5" width="4.4" height="12.4" fill="none" stroke="#444" stroke-width="0.5"/>
<path d="M114.38 803.25V801.25M112.28 801.25H116.47" stroke="#333" stroke-width="0.85" fill="none"/>
<rect x="112.35" y="803.6" width="4.05" height="10.3" fill="url(#hat)" stroke="#222" stroke-width="0.45"/>
<path d="M119.25 800.25V797.75M117.15 797.75H121.35" stroke="#333" stroke-width="0.85" fill="none"/>
<rect x="117.1" y="800.6" width="4.3" height="13.3" fill="#858585" stroke="#333" stroke-width="0.7"/>
<path d="M124.25 799.5V795.75M122.15 795.75H126.35" stroke="#333" stroke-width="0.85" fill="none"/>
<rect x="122.1" y="799.85" width="4.3" height="14.05" fill="#0a0a0a" stroke="#111" stroke-width="0.7"/>
<path d="M129.5 801V799.5M127.4 799.5H131.6" stroke="#333" stroke-width="0.85" fill="none"/>
<rect x="126.75" y="801" width="5.5" height="12.9" fill="#fff"/>
<path d="M126.75 811.9h5.5v2.1h-5.5zM126.75 807.75h5.5v2.1h-5.5zM126.75 803.6h5.5v2.1h-5.5z" fill="#0a0a0a"/>
<rect x="127.05" y="801" width="4.9" height="12.9" fill="none" stroke="#444" stroke-width="0.5"/>
<path d="M143.75 802V799M141.65 799H145.85" stroke="#333" stroke-width="0.85" fill="none"/>
<rect x="141.6" y="802.35" width="4.3" height="11.55" fill="url(#hat)" stroke="#222" stroke-width="0.45"/>
<path d="M148.75 797.5V793.75M146.65 793.75H150.85" stroke="#333" stroke-width="0.85" fill="none"/>
<rect x="146.6" y="797.85" width="4.3" height="16.05" fill="#858585" stroke="#333" stroke-width="0.7"/>
<path d="M153.75 796.25V791.5M151.65 791.5H155.85" stroke="#333" stroke-width="0.85" fill="none"/>
<rect x="151.6" y="796.6" width="4.3" height="17.3" fill="#0a0a0a" stroke="#111" stroke-width="0.7"/>
<path d="M158.75 799.5V797.75M156.65 797.75H160.85" stroke="#333" stroke-width="0.85" fill="none"/>
<rect x="156.25" y="799.5" width="5" height="14.4" fill="#fff"/>
<path d="M156.25 811.9h5v2.1h-5zM156.25 807.75h5v2.1h-5zM156.25 803.6h5v2.1h-5zM156.25 799.5h5v2.05h-5z" fill="#0a0a0a"/>
<rect x="156.55" y="799.5" width="4.4" height="14.4" fill="none" stroke="#444" stroke-width="0.5"/>
<path d="M172.5 801.5V798.25M170.4 798.25H174.6" stroke="#333" stroke-width="0.85" fill="none"/>
<rect x="170.35" y="801.85" width="4.3" height="12.05" fill="url(#hat)" stroke="#222" stroke-width="0.45"/>
<path d="M177.5 794.5V789M175.4 789H179.6" stroke="#333" stroke-width="0.85" fill="none"/>
<rect x="175.35" y="794.85" width="4.3" height="19.05" fill="#858585" stroke="#333" stroke-width="0.7"/>
<path d="M182.5 793.25V786.5M180.4 786.5H184.6" stroke="#333" stroke-width="0.85" fill="none"/>
<rect x="180.35" y="793.6" width="4.3" height="20.3" fill="#0a0a0a" stroke="#111" stroke-width="0.7"/>
<path d="M187.5 800.75V798.25M185.4 798.25H189.6" stroke="#333" stroke-width="0.85" fill="none"/>
<rect x="185" y="800.75" width="5" height="13.15" fill="#fff"/>
<path d="M185 811.9h5v2.1h-5zM185 807.75h5v2.1h-5zM185 803.6h5v2.1h-5z" fill="#0a0a0a"/>
<rect x="185.3" y="800.75" width="4.4" height="13.15" fill="none" stroke="#444" stroke-width="0.5"/>
<path d="M200.75 802V799.5M198.65 799.5H202.85" stroke="#333" stroke-width="0.85" fill="none"/>
<rect x="198.6" y="802.35" width="4.3" height="11.55" fill="url(#hat)" stroke="#222" stroke-width="0.45"/>
<path d="M205.75 790.25V784M203.65 784H207.85" stroke="#333" stroke-width="0.85" fill="none"/>
<rect x="203.6" y="790.6" width="4.3" height="23.3" fill="#858585" stroke="#333" stroke-width="0.7"/>
<path d="M210.75 791.25V782M208.65 782H212.85" stroke="#333" stroke-width="0.85" fill="none"/>
<rect x="208.6" y="791.6" width="4.3" height="22.3" fill="#0a0a0a" stroke="#111" stroke-width="0.7"/>
<path d="M215.75 799.5V797M213.65 797H217.85" stroke="#333" stroke-width="0.85" fill="none"/>
<rect x="213.25" y="799.5" width="5" height="14.4" fill="#fff"/>
<path d="M213.25 811.9h5v2.1h-5zM213.25 807.75h5v2.1h-5zM213.25 803.6h5v2.1h-5zM213.25 799.5h5v2.05h-5z" fill="#0a0a0a"/>
<rect x="213.55" y="799.5" width="4.4" height="14.4" fill="none" stroke="#444" stroke-width="0.5"/>
<path d="M228.75 801.25V798.25M226.65 798.25H230.85" stroke="#333" stroke-width="0.85" fill="none"/>
<rect x="226.6" y="801.6" width="4.3" height="12.3" fill="url(#hat)" stroke="#222" stroke-width="0.45"/>
<path d="M233.75 790.75V785M231.65 785H235.85" stroke="#333" stroke-width="0.85" fill="none"/>
<rect x="231.6" y="791.1" width="4.3" height="22.8" fill="#858585" stroke="#333" stroke-width="0.7"/>
<path d="M239 790V779.5M236.9 779.5H241.1" stroke="#333" stroke-width="0.85" fill="none"/>
<rect x="236.6" y="790.35" width="4.8" height="23.55" fill="#0a0a0a" stroke="#111" stroke-width="0.7"/>
<path d="M244.25 798.75V796.25M242.15 796.25H246.35" stroke="#333" stroke-width="0.85" fill="none"/>
<rect x="241.75" y="798.75" width="5" height="15.15" fill="#fff"/>
<path d="M241.75 811.9h5v2.1h-5zM241.75 807.75h5v2.1h-5zM241.75 803.6h5v2.1h-5zM241.75 799.45h5v2.1h-5z" fill="#0a0a0a"/>
<rect x="242.05" y="798.75" width="4.4" height="15.15" fill="none" stroke="#444" stroke-width="0.5"/>
<path d="M30.5 697V816.4M28 813.9H249.25" stroke="#9c9c9c" stroke-width="0.9" fill="none"/>
<path d="M50 813.9v2.5M79.5 813.9v2.5M108.75 813.9v2.5M137 813.9v2.5M165.75 813.9v2.5M194.5 813.9v2.5M222.5 813.9v2.5M249.25 813.9v2.5M28 794.42h2.5M28 774.93h2.5M28 755.45h2.5M28 735.97h2.5M28 716.48h2.5M28 697h2.5" stroke="#9c9c9c" stroke-width="0.9" fill="none"/>
<text transform="translate(26.4 818.5) scale(1.05 1)" font-size="10.4" text-anchor="end" fill="#151515" stroke="#151515" stroke-width="0.15">0</text>
<text transform="translate(26.4 799.02) scale(1.05 1)" font-size="10.4" text-anchor="end" fill="#151515" stroke="#151515" stroke-width="0.15">10</text>
<text transform="translate(26.4 779.53) scale(1.05 1)" font-size="10.4" text-anchor="end" fill="#151515" stroke="#151515" stroke-width="0.15">20</text>
<text transform="translate(26.4 760.05) scale(1.05 1)" font-size="10.4" text-anchor="end" fill="#151515" stroke="#151515" stroke-width="0.15">30</text>
<text transform="translate(26.4 740.57) scale(1.05 1)" font-size="10.4" text-anchor="end" fill="#151515" stroke="#151515" stroke-width="0.15">40</text>
<text transform="translate(26.4 721.08) scale(1.05 1)" font-size="10.4" text-anchor="end" fill="#151515" stroke="#151515" stroke-width="0.15">50</text>
<text transform="translate(26.4 701.6) scale(1.05 1)" font-size="10.4" text-anchor="end" fill="#151515" stroke="#151515" stroke-width="0.15">60</text>
<text transform="translate(42.5 832.2) scale(1.05 1)" font-size="10.4" text-anchor="middle" fill="#151515" stroke="#151515" stroke-width="0.15">0</text>
<text transform="translate(62.75 832.2) scale(1.05 1)" font-size="10.4" text-anchor="middle" fill="#151515" stroke="#151515" stroke-width="0.15">0.03</text>
<text transform="translate(92.5 832.2) scale(1.05 1)" font-size="10.4" text-anchor="middle" fill="#151515" stroke="#151515" stroke-width="0.15">0.06</text>
<text transform="translate(120.6 832.2) scale(1.05 1)" font-size="10.4" text-anchor="middle" fill="#151515" stroke="#151515" stroke-width="0.15">0.1</text>
<text transform="translate(150.9 832.2) scale(1.05 1)" font-size="10.4" text-anchor="middle" fill="#151515" stroke="#151515" stroke-width="0.15">0.3</text>
<text transform="translate(178 832.2) scale(1.05 1)" font-size="10.4" text-anchor="middle" fill="#151515" stroke="#151515" stroke-width="0.15">1</text>
<text transform="translate(206.25 832.2) scale(1.05 1)" font-size="10.4" text-anchor="middle" fill="#151515" stroke="#151515" stroke-width="0.15">3</text>
<text transform="translate(235.6 832.2) scale(1.05 1)" font-size="10.4" text-anchor="middle" fill="#151515" stroke="#151515" stroke-width="0.15">10</text>
<text transform="translate(176.75 778.05) skewX(-8) scale(0.74 1)" font-size="7.8" text-anchor="middle" font-style="italic" font-weight="bold" fill="#7c7c7c" stroke="#7c7c7c" stroke-width="0.4">#</text>
<text transform="translate(183 778.05) skewX(-8) scale(0.74 1)" font-size="7.8" text-anchor="middle" font-style="italic" font-weight="bold" fill="#7c7c7c" stroke="#7c7c7c" stroke-width="0.4">#</text>
<text x="205" y="777.6" font-size="11.5" text-anchor="middle" font-weight="bold" fill="#838383" stroke="#838383" stroke-width="0.55" stroke-linejoin="round">*</text>
<text transform="translate(213 774.05) skewX(-8) scale(0.74 1)" font-size="7.8" text-anchor="middle" font-style="italic" font-weight="bold" fill="#7c7c7c" stroke="#7c7c7c" stroke-width="0.4">#</text>
<text x="233.75" y="778.35" font-size="11.5" text-anchor="middle" font-weight="bold" fill="#838383" stroke="#838383" stroke-width="0.55" stroke-linejoin="round">*</text>
<text transform="translate(240.5 768.55) skewX(-8) scale(0.74 1)" font-size="7.8" text-anchor="middle" font-style="italic" font-weight="bold" fill="#7c7c7c" stroke="#7c7c7c" stroke-width="0.4">#</text>
<text transform="translate(136.6 689.5) scale(1.04 1)" font-size="12.4" text-anchor="middle" fill="#151515" stroke="#151515" stroke-width="0.15">HL-60</text>
<text x="139.2" y="849.4" font-size="12.3" text-anchor="middle" font-weight="bold" fill="#111" >concentration (µM)</text>
<text x="9.5" y="784.6" font-size="12.3" font-weight="bold" fill="#111" transform="rotate(-90 9.5 784.6)">%<tspan dx="1.2">apoptosis</tspan></text>
</g>
<g id="legend">
<rect x="301.4" y="703.9" width="7.4" height="7.3" fill="#fff" stroke="#222" stroke-width="0.8"/>
<text transform="translate(314.2 710.6) scale(1.03 1)" font-size="11" fill="#151515" stroke="#151515" stroke-width="0.15">Medium</text>
<rect x="301.4" y="716.3" width="7.4" height="7" fill="url(#hat)" stroke="#222" stroke-width="0.8"/>
<text transform="translate(314.2 723) scale(1.03 1)" font-size="11" fill="#151515" stroke="#151515" stroke-width="0.15">DMSO</text>
<rect x="301.4" y="728.4" width="7.4" height="7.3" fill="#858585" stroke="#222" stroke-width="0.8"/>
<text transform="translate(314.2 735.6) scale(1.03 1)" font-size="11" fill="#151515" stroke="#151515" stroke-width="0.15">XIAP inh.1</text>
<rect x="301.4" y="740.8" width="7.4" height="7.2" fill="#0a0a0a" stroke="#222" stroke-width="0.8"/>
<text transform="translate(314.2 748) scale(1.03 1)" font-size="11" fill="#151515" stroke="#151515" stroke-width="0.15">XIAP inh.2</text>
<rect x="301.4" y="753.2" width="7.4" height="6.8" fill="#fff" stroke="#111" stroke-width="0.8"/>
<rect x="301.4" y="753.5" width="7.4" height="2" fill="#0a0a0a"/><rect x="301.4" y="757.4" width="7.4" height="2.3" fill="#0a0a0a"/>
<text transform="translate(314.2 760.2) scale(1.03 1)" font-size="11" fill="#151515" stroke="#151515" stroke-width="0.15">control</text>
</g>
</svg>
</body></html>
